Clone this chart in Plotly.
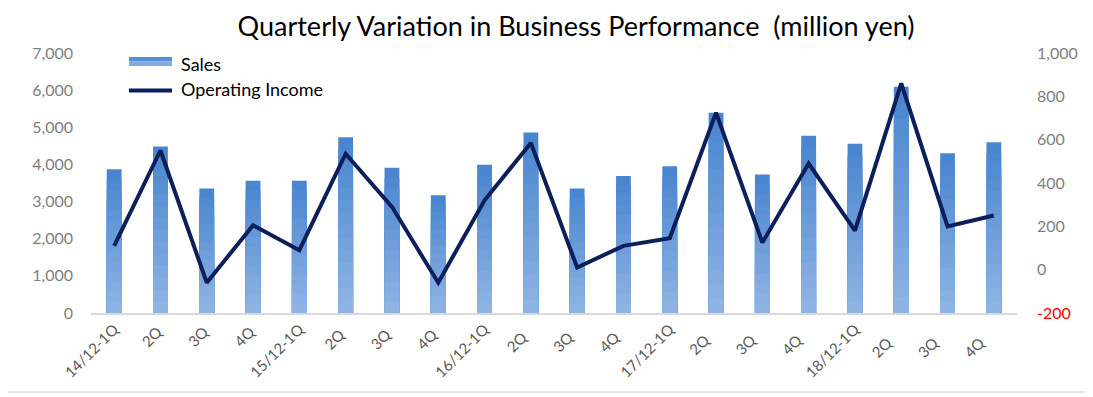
import plotly.graph_objects as go

categories = ["14/12-1Q", "2Q ", "3Q ", "4Q ", "15/12-1Q", "2Q  ", "3Q  ", "4Q  ",
              "16/12-1Q", "2Q   ", "3Q   ", "4Q   ", "17/12-1Q", "2Q    ", "3Q    ", "4Q    ",
              "18/12-1Q", "2Q     ", "3Q     ", "4Q     "]
sales = [3870, 4480, 3350, 3560, 3560, 4730, 3910, 3170, 3990, 4860,
         3350, 3690, 3950, 5390, 3730, 4770, 4560, 6090, 4300, 4600]
operating_income = [110, 550, -60, 205, 90, 535, 290, -60, 320, 585,
                    10, 110, 145, 725, 125, 490, 180, 860, 200, 250]
left_ticks = [0, 1000, 2000, 3000, 4000, 5000, 6000, 7000]
right_ticks = [-200, 0, 200, 400, 600, 800, 1000]
series_names = ["Sales", "Operating Income"]

FONT = "Lato"
LINE_COLOR = "#0c1f5b"
OFF = 8  # page body margin
W, H = 1093 - OFF, 397 - OFF
L, T, R, B = 91 - OFF, 53 - OFF, 76, 84
PW, PH = 926, 260


def px_x(px):
    return (px - 91) / PW


def px_y(py):
    return (313 - py) / PH


fig = go.Figure()

# gradient approximation for bars: overlay progressively shorter, lighter bars
top_rgb = (74, 134, 208)
bot_rgb = (143, 180, 228)
N = 14
for k in range(N):
    frac = 1 - k / N
    t = k / (N - 1)
    c = tuple(int(top_rgb[i] + (bot_rgb[i] - top_rgb[i]) * t) for i in range(3))
    fig.add_trace(go.Bar(
        x=categories, y=[v * frac for v in sales],
        marker=dict(color="rgb(%d,%d,%d)" % c, line=dict(width=0)),
        width=0.32, name=series_names[0], showlegend=False,
        hoverinfo="skip" if k else None, yaxis="y",
    ))

fig.add_trace(go.Scatter(
    x=categories, y=operating_income, mode="lines", name=series_names[1],
    line=dict(color=LINE_COLOR, width=4), yaxis="y2", showlegend=False,
))

fig.update_layout(
    width=W, height=H,
    margin=dict(l=L, r=R, t=T, b=B, autoexpand=False),
    paper_bgcolor="white", plot_bgcolor="white",
    barmode="overlay",
    font=dict(family=FONT, size=16, color="#7f7f7f"),
    title=dict(text="Quarterly Variation in Business Performance  (million yen)",
               x=(576 - OFF) / W, xref="container", xanchor="center",
               y=1 - (27 - OFF) / H, yref="container", yanchor="middle",
               font=dict(family=FONT, size=27, color="#000000")),
    showlegend=False,
    xaxis=dict(type="category", tickangle=-45, showgrid=False,
               showline=True, linecolor="#d9d9d9", linewidth=1.5,
               ticks="", tickfont=dict(size=15, color="#595959"),
               range=[-0.5, len(categories) - 0.5], automargin=False),
    yaxis=dict(range=[0, 7000], tickvals=left_ticks,
               ticktext=[f"{v:,}" for v in left_ticks],
               showgrid=False, zeroline=False, showline=False, ticks="",
               ticklabelstandoff=17, tickfont=dict(size=16, color="#7f7f7f"),
               automargin=False),
    yaxis2=dict(range=[-200, 1000], overlaying="y", side="right",
                tickvals=right_ticks,
                ticktext=[(f'<span style="color:#ff0000">{v:,}</span>' if v < 0 else f"{v:,}")
                          for v in right_ticks],
                showgrid=False, zeroline=False, showline=False, ticks="",
                ticklabelstandoff=19, tickfont=dict(size=16, color="#7f7f7f"),
                automargin=False),
    bargap=0.68,
)

# custom legend (wide swatches as in the reference)
fig.add_shape(type="rect", xref="paper", yref="paper",
              x0=px_x(129), x1=px_x(172), y0=px_y(61.5), y1=px_y(57),
              fillcolor="rgb(88,144,214)", line=dict(width=0), layer="above")
fig.add_shape(type="rect", xref="paper", yref="paper",
              x0=px_x(129), x1=px_x(172), y0=px_y(66), y1=px_y(61.5),
              fillcolor="rgb(128,170,225)", line=dict(width=0), layer="above")
fig.add_shape(type="line", xref="paper", yref="paper",
              x0=px_x(129), x1=px_x(172), y0=px_y(90.5), y1=px_y(90.5),
              line=dict(color=LINE_COLOR, width=4), layer="above")
for name, py in zip(series_names, [64, 89.5]):
    fig.add_annotation(text=name, xref="paper", yref="paper",
                       x=px_x(179), y=px_y(py), xanchor="left", yanchor="middle",
                       showarrow=False, font=dict(family=FONT, size=18, color="#000000"))

# bottom chart border
fig.add_shape(type="line", xref="paper", yref="paper",
              x0=px_x(OFF), x1=px_x(1093), y0=px_y(392), y1=px_y(392),
              line=dict(color="#e6e6e6", width=2))

fig.write_html("out.html")
